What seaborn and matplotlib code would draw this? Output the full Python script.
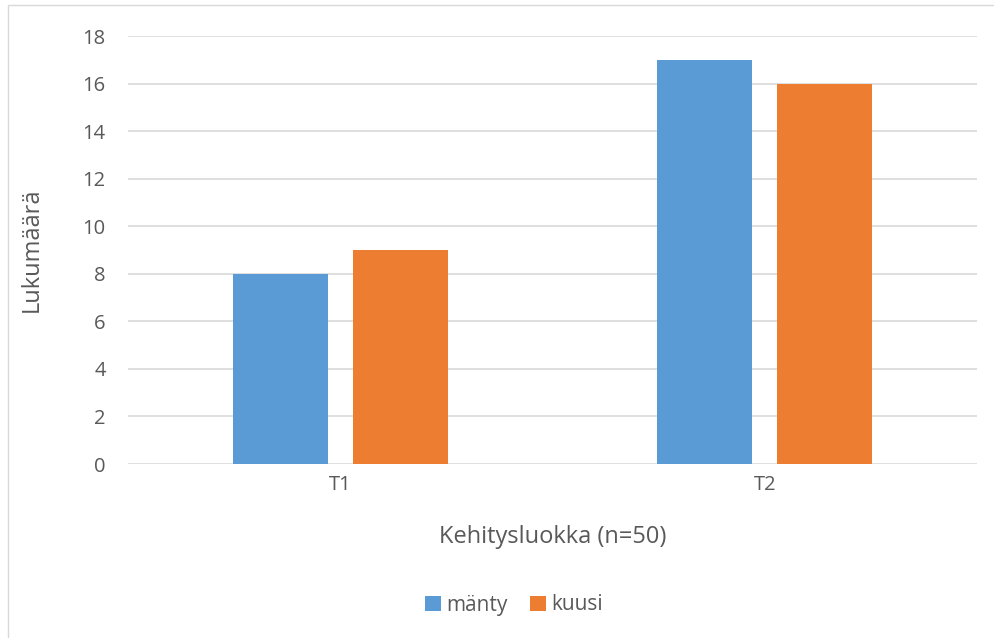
import matplotlib
matplotlib.use("Agg")
import matplotlib.pyplot as plt
import matplotlib.patches as mpatches
import seaborn as sns
import pandas as pd

# Data
categories = ["T1", "T2"]
species = ["mänty", "kuusi"]
manty = [8, 17]
kuusi = [9, 16]
yticks = [0, 2, 4, 6, 8, 10, 12, 14, 16, 18]

df = pd.DataFrame({
    "Kehitysluokka": categories * 2,
    "Laji": [species[0]] * len(categories) + [species[1]] * len(categories),
    "Lukumäärä": manty + kuusi,
})

sns.set_theme(style="white")
plt.rcParams["font.family"] = ["Open Sans", "DejaVu Sans"]
text_color = "#595959"
grid_color = "#d9d9d9"

fig = plt.figure(figsize=(9.94, 6.38), dpi=100)
ax = fig.add_axes([128 / 994, 1 - 464 / 638, (977 - 128) / 994, (464 - 36) / 638])

sns.barplot(
    data=df, x="Kehitysluokka", y="Lukumäärä", hue="Laji",
    order=categories, hue_order=species,
    palette=["#5B9BD5", "#ED7D31"],
    width=0.5654, gap=0.2083, saturation=1, linewidth=0, ax=ax, zorder=3,
)

ax.set_ylim(0, 18)
ax.set_xlim(-0.5, 1.5)
ax.set_yticks(yticks)
ax.yaxis.grid(True, color=grid_color, linewidth=1.2, zorder=0)
ax.set_axisbelow(True)
for s in ax.spines.values():
    s.set_visible(False)
ax.tick_params(axis="y", length=0, pad=16, labelsize=14.5, labelcolor=text_color)
ax.tick_params(axis="x", length=0, pad=8, labelsize=14.5, labelcolor=text_color)

ax.set_ylabel("Lukumäärä", fontsize=17, color=text_color)
ax.yaxis.set_label_coords(-0.113, 0.5)
ax.yaxis.label.set_va("center")
ax.set_xlabel("Kehitysluokka (n=50)", fontsize=17, color=text_color)
ax.xaxis.set_label_coords(0.5006, -0.17)
ax.xaxis.label.set_va("center")

handles, labels = ax.get_legend_handles_labels()
if ax.legend_:
    ax.legend_.remove()
fig.legend(handles, labels, loc="center", bbox_to_anchor=(514 / 994, 1 - 605 / 638),
           ncol=2, frameon=False, fontsize=15, handlelength=0.75, handleheight=0.75,
           handletextpad=0.25, columnspacing=1.1, labelcolor=text_color)

# Outer chart frame
fig.patches.append(mpatches.Rectangle((8 / 994, -0.05), 1.0, 1.05 - 5.5 / 638,
                                      transform=fig.transFigure, fill=False,
                                      edgecolor=grid_color, linewidth=1))

fig.savefig("out.png", dpi=100)
